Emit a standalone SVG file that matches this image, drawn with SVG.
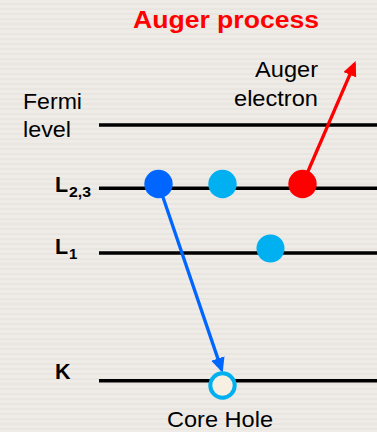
<svg xmlns="http://www.w3.org/2000/svg" width="377" height="432" viewBox="0 0 377 432">
<defs>
<pattern id="bgp" width="8" height="5" patternUnits="userSpaceOnUse">
<rect width="8" height="5" fill="#efece8"/>
<rect y="3" width="8" height="2" fill="#e9e6e1"/>
</pattern>
<marker id="ahBlue" markerUnits="userSpaceOnUse" markerWidth="16" markerHeight="15" refX="12" refY="7" orient="auto">
<path d="M0,0 L15,7 L0,14 z" fill="#0066ff"/>
</marker>
<marker id="ahRed" markerUnits="userSpaceOnUse" markerWidth="16" markerHeight="15" refX="12" refY="7" orient="auto">
<path d="M0,0 L15,7 L0,14 z" fill="#ff0000"/>
</marker>
</defs>
<style>
text { font-family: "Liberation Sans", Arial, sans-serif; fill: #000; }
.lbl { font-size: 21.5px; }
.bold { font-weight: bold; }
.lvl { stroke: #000; stroke-width: 3.4; }
.e { stroke: none; }
</style>
<rect width="377" height="432" fill="url(#bgp)"/>
<text x="133" y="28" class="bold" style="font-size:23.5px;fill:#ff0000" textLength="186" lengthAdjust="spacingAndGlyphs">Auger process</text>

<g id="levels">
<line class="lvl" x1="99" y1="125" x2="377" y2="125"/>
<line class="lvl" x1="99" y1="188.3" x2="377" y2="188.3"/>
<line class="lvl" x1="99" y1="253" x2="377" y2="253"/>
<line class="lvl" x1="99" y1="380.7" x2="377" y2="380.7"/>
</g>

<g id="labels">
<text class="lbl" x="23" y="109" textLength="59" lengthAdjust="spacingAndGlyphs">Fermi</text>
<text class="lbl" x="23" y="137" textLength="48" lengthAdjust="spacingAndGlyphs">level</text>
<text class="bold" x="55" y="192" style="font-size:21.5px">L</text>
<text class="bold" x="69" y="197" style="font-size:15px" textLength="22" lengthAdjust="spacingAndGlyphs">2,3</text>
<text class="bold" x="55" y="254" style="font-size:21.5px">L</text>
<text class="bold" x="69" y="259" style="font-size:15px">1</text>
<text class="bold" x="55" y="379" style="font-size:21.5px">K</text>
<text class="lbl" x="255" y="77" textLength="63" lengthAdjust="spacingAndGlyphs">Auger</text>
<text class="lbl" x="234" y="106" textLength="84" lengthAdjust="spacingAndGlyphs">electron</text>
<text class="lbl" x="167" y="427" textLength="106" lengthAdjust="spacingAndGlyphs">Core Hole</text>
</g>

<g id="connectors" fill="none" stroke-width="3.3">
<line x1="158.5" y1="184" x2="221.7" y2="369.9" stroke="#0066ff" marker-end="url(#ahBlue)"/>
<line x1="302.5" y1="184" x2="354.5" y2="63.8" stroke="#ff0000" marker-end="url(#ahRed)"/>
</g>

<g id="electron-l23-a"><circle class="e" cx="158.5" cy="184" r="14.2" fill="#0066ff"/></g>
<g id="electron-l23-b"><circle class="e" cx="222.5" cy="184" r="14.2" fill="#00b0f0"/></g>
<g id="electron-l23-auger"><circle class="e" cx="302.5" cy="184" r="14.2" fill="#ff0000"/></g>
<g id="electron-l1"><circle class="e" cx="270.5" cy="248.5" r="14" fill="#00b0f0"/></g>
<g id="core-hole"><circle cx="222.5" cy="385.5" r="12.2" fill="#f6efe2" stroke="#00b0f0" stroke-width="4"/></g>
</svg>
